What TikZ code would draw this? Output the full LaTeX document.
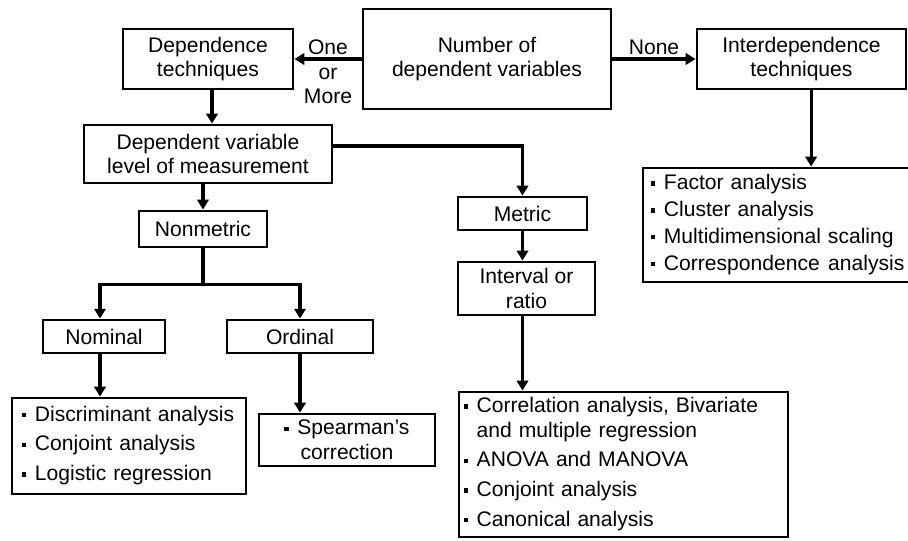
\documentclass[tikz,border=0pt]{standalone}
\usepackage{fontspec}
\setmainfont{Liberation Sans}
\usetikzlibrary{arrows.meta}
\newcommand{\blt}{\rule[0.35ex]{3.2pt}{3.2pt}\kern6pt}

\begin{document}
\begin{tikzpicture}[x=0.025cm, y=-0.025cm,
    every node/.style={font=\fontsize{15}{17.5}\selectfont, align=center},
    box/.style={draw, line width=2pt, inner sep=0pt},
    listbox/.style={box, align=left},
    arr/.style={line width=2.2pt, -{Triangle[length=7pt,width=8pt]}}]
    \useasboundingbox (0,0) rectangle (908,540);

    % Boxes
    \node[box, minimum width=6.2cm, minimum height=2.5cm] (num) at (487,59) {Number of\\dependent variables};
    \node[box, minimum width=4.25cm, minimum height=1.5cm] (dep) at (208,59) {Dependence\\techniques};
    \node[box, minimum width=5.225cm, minimum height=1.5cm] (inter) at (801.5,59) {Interdependence\\techniques};
    \node[box, minimum width=6.2cm, minimum height=1.45cm] (dvl) at (208,154) {Dependent variable\\level of measurement};
    \node[box, minimum width=3.2cm, minimum height=0.9cm] (nm) at (203,229) {Nonmetric};
    \node[box, minimum width=3.225cm, minimum height=0.825cm] (met) at (522.5,213.5) {Metric};
    \node[box, minimum width=3.425cm, minimum height=1.325cm] (int) at (526.5,288.5) {Interval or\\ratio};
    \node[box, minimum width=3.05cm, minimum height=0.825cm] (nom) at (104,336.5) {Nominal};
    \node[box, minimum width=3.65cm, minimum height=0.825cm] (ord) at (300,336.5) {Ordinal};

    % Lists
    \node[listbox, inner xsep=0.2cm, text width=6.475cm, minimum height=2.85cm] (interlist) at (780.5,225) {%
      \begin{tabular}{@{}l@{}l@{}}
        \blt & Factor analysis\\[1.5pt]
        \blt & Cluster analysis\\[1.5pt]
        \blt & Multidimensional scaling\\[1.5pt]
        \blt & Correspondence\hspace{0.4em}analysis
      \end{tabular}};
    \node[listbox, inner xsep=0.25cm, text width=5.35cm, minimum height=2.4cm] (nomlist) at (129,446) {%
      \begin{tabular}{@{}l@{}l@{}}
        \blt & Discriminant analysis\\[3.5pt]
        \blt & Conjoint analysis\\[3.5pt]
        \blt & Logistic regression
      \end{tabular}};
    \node[box, minimum width=4.4cm, minimum height=1.3cm] (ordlist) at (347,440) {\blt Spearman’s\\correction};
    \node[listbox, inner xsep=0.12cm, text width=7.985cm, minimum height=3.625cm] (metlist) at (623.5,464.5) {%
      \begin{tabular}{@{}l@{}l@{}}
        \blt & Correlation analysis, Bivariate\\
             & and multiple regression\\[3.5pt]
        \blt & ANOVA and MANOVA\\[3.5pt]
        \blt & Conjoint analysis\\[3.5pt]
        \blt & Canonical analysis
      \end{tabular}};

    % Labels
    \node (more) at (328,72) {One\\or\\More};
    \node (none) at (654,47) {None};

    % Arrows
    \coordinate (split) at ([yshift=-0.9cm]nm.south);
    \draw[arr] (num.west) -- (dep.east);
    \draw[arr] (num.east) -- (inter.west);
    \draw[arr] ([xshift=0.1cm]dep.south) -- ([xshift=0.1cm]dep.south |- dvl.north);
    \draw[arr] (nm.north |- dvl.south) -- (nm.north);
    \draw[arr] ([yshift=0.2cm]dvl.east) -| (met.north);
    \draw[arr] (met.south) -- (met.south |- int.north);
    \draw[arr] (int.south -| met.south) -- (met.south |- metlist.north);
    \draw[arr] ([xshift=0.24cm]inter.south) -- ([xshift=0.24cm]inter.south |- interlist.north);
    \draw[line width=2.2pt] (nm.south) -- (split);
    \draw[arr] (split) -| ([xshift=-0.1cm]nom.north);
    \draw[arr] (split) -| (ord.north);
    \draw[arr] ([xshift=-0.1cm]nom.south) -- ([xshift=-0.1cm]nom.south |- nomlist.north);
    \draw[arr] (ord.south) -- (ord.south |- ordlist.north);
\end{tikzpicture}
\end{document}
